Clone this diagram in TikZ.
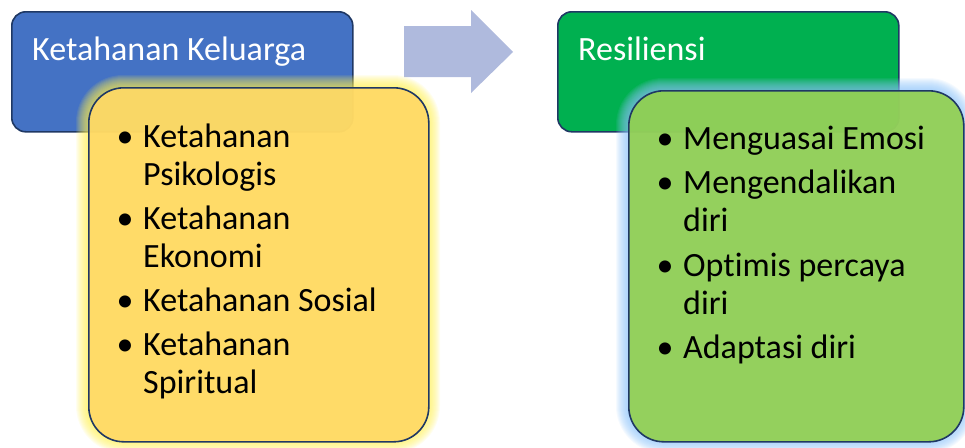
\documentclass[tikz,border=0pt]{standalone}
\usepackage{fontspec}
\setmainfont{Carlito}[Ligatures=NoCommon]
\definecolor{boxline}{RGB}{31,56,100}
\definecolor{titleblue}{RGB}{68,114,196}
\definecolor{titlegreen}{RGB}{0,176,80}
\definecolor{listyellow}{RGB}{255,217,102}
\definecolor{listgreen}{RGB}{146,208,80}
\definecolor{arrowfill}{RGB}{175,186,221}
\definecolor{glowyellow}{RGB}{255,240,80}
\definecolor{glowblue}{RGB}{140,195,250}
% two-line list entry whose reference point is the first baseline
\newcommand{\entrylines}[2]{\vtop{\baselineskip=38pt\hbox{#1}\hbox{#2}}}
\tikzset{
  titlebox/.style={draw=boxline, line width=1.6pt, rounded corners=14pt,
    minimum width=341pt, minimum height=120pt, inner sep=0pt, anchor=north west},
  listbox/.style={draw=boxline, line width=1.6pt, rounded corners=35pt,
    minimum width=340pt, minimum height=354pt, inner sep=0pt, anchor=north west,
    fill opacity=0.92},
  titletext/.style={anchor=base west, text=white, inner sep=0pt,
    font=\fontsize{34}{40}\selectfont},
  itemtext/.style={anchor=base west, inner sep=0pt,
    font=\fontsize{34}{38}\selectfont},
  bullet/.style={anchor=base, inner sep=0pt, font=\fontsize{34}{38}\selectfont},
}
\begin{document}
\begin{tikzpicture}[x=1pt, y=-1pt]
\useasboundingbox (0,0) rectangle (965,447);

% header boxes
\node[titlebox, fill=titleblue] (kk) at (11,11) {};
\node[titlebox, fill=titlegreen] (rs) at (557,11) {};
\node[titletext] (kkt) at (32,60) {Ketahanan Keluarga};
\node[titletext] (rst) at (578,60) {Resiliensi};

% block arrow between the two groups
\fill[arrowfill] (404,26) -- (471,26) -- (471,10) -- (513,52) -- (471,93)
  -- (471,77) -- (404,77) -- cycle;

% soft glow around the list boxes
\foreach \i in {1,...,12}{
  \pgfmathsetmacro{\r}{35+\i}
  \fill[glowyellow, opacity=0.09, rounded corners=\r pt]
    (88-\i,87-\i) rectangle (428+\i,441+\i);
  \fill[glowblue, opacity=0.09, rounded corners=\r pt]
    (628-\i,90-\i) rectangle (963+\i,441+\i);
}

% list boxes
\node[listbox, fill=listyellow] (ky) at (88,87) {};
\node[listbox, fill=listgreen, minimum width=335pt, minimum height=351pt] (rg) at (628,90) {};

% left list
\node[bullet] (b1) at (125,147) {•};
\node[itemtext] (i1) at (143,147) {\entrylines{Ketahanan}{Psikologis}};
\node[bullet] (b2) at (125,229) {•};
\node[itemtext] (i2) at (143,229) {\entrylines{Ketahanan}{Ekonomi}};
\node[bullet] (b3) at (125,311) {•};
\node[itemtext] (i3) at (143,311) {Ketahanan Sosial};
\node[bullet] (b4) at (125,355) {•};
\node[itemtext] (i4) at (143,355) {\entrylines{Ketahanan}{Spiritual}};

% right list
\node[bullet] (c1) at (665,149) {•};
\node[itemtext] (j1) at (683,149) {Menguasai Emosi};
\node[bullet] (c2) at (665,193) {•};
\node[itemtext] (j2) at (683,193) {\entrylines{Mengendalikan}{diri}};
\node[bullet] (c3) at (665,276) {•};
\node[itemtext] (j3) at (683,276) {\entrylines{Optimis percaya}{diri}};
\node[bullet] (c4) at (665,358) {•};
\node[itemtext] (j4) at (683,358) {Adaptasi diri};
\end{tikzpicture}
\end{document}
